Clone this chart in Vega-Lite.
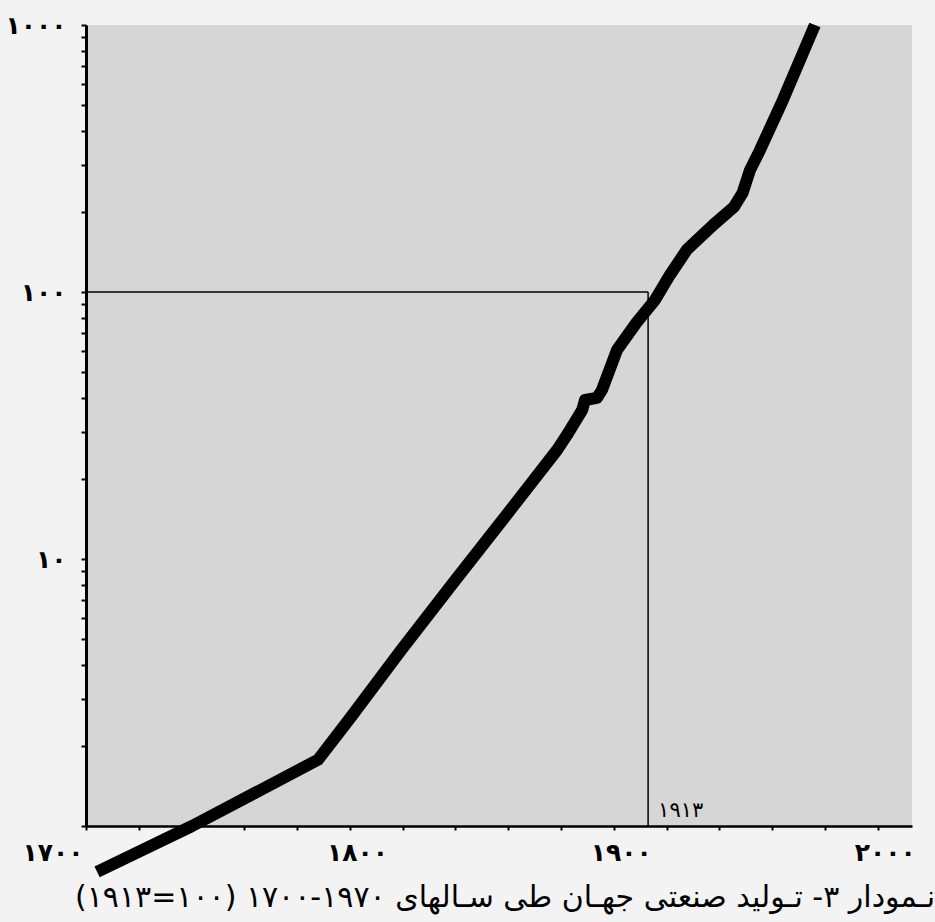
{
  "$schema": "https://vega.github.io/schema/vega-lite/v6.json",
  "width": 826,
  "height": 801,
  "autosize": "none",
  "padding": {"left": 86, "top": 25, "right": 23, "bottom": 96},
  "background": "#f3f3f3",
  "config": {"view": {"fill": "#d6d6d6", "stroke": null}, "font": "DejaVu Sans"},
  "datasets": {
    "production": [
      {"year": 1704.2, "index": 0.673},
      {"year": 1740.2, "index": 1.0},
      {"year": 1787.9, "index": 1.77},
      {"year": 1800.4, "index": 2.56},
      {"year": 1819.4, "index": 4.56},
      {"year": 1839.1, "index": 8.13},
      {"year": 1858.8, "index": 14.4},
      {"year": 1878.5, "index": 25.6},
      {"year": 1882.7, "index": 29.6},
      {"year": 1888.0, "index": 36.1},
      {"year": 1889.1, "index": 39.4},
      {"year": 1893.6, "index": 40.1},
      {"year": 1895.5, "index": 42.9},
      {"year": 1901.2, "index": 60.6},
      {"year": 1908.5, "index": 76.5},
      {"year": 1915.6, "index": 93.3},
      {"year": 1921.3, "index": 116},
      {"year": 1927.7, "index": 144},
      {"year": 1937.6, "index": 178},
      {"year": 1945.5, "index": 208},
      {"year": 1948.8, "index": 235},
      {"year": 1951.6, "index": 286},
      {"year": 1955.4, "index": 340},
      {"year": 1964.1, "index": 524},
      {"year": 1976.2, "index": 1000}
    ],
    "ref": [{"year": 1913, "index": 100, "label": "۱۹۱۳"}]
  },
  "title": {
    "text": "‏نـمودار ۳- تـولید صنعتی جهـان طی سـالهای ۱۹۷۰-۱۷۰۰ (۱۰۰=۱۹۱۳)‏",
    "orient": "bottom",
    "anchor": "middle",
    "fontSize": 30,
    "fontWeight": "normal",
    "color": "black",
    "offset": 0,
    "dy": 5,
    "dx": 6,
    "font": "DejaVu Sans"
  },
  "layer": [
    {
      "data": {"name": "ref"},
      "mark": {"type": "rule", "color": "black", "strokeWidth": 1.5},
      "encoding": {
        "x": {
          "field": "year",
          "type": "quantitative",
          "scale": {"domain": [1700, 2013], "nice": false, "zero": false},
          "axis": {
            "values": [1700, 1710, 1720, 1730, 1740, 1750, 1760, 1770, 1780, 1790, 1800, 1810, 1820, 1830, 1840, 1850, 1860, 1870, 1880, 1890, 1900, 1910, 1920, 1930, 1940, 1950, 1960, 1970, 1980, 1990, 2000, 2010],
            "labelExpr": "datum.value == 1700 ? '۱۷۰۰' : datum.value == 1800 ? '۱۸۰۰' : datum.value == 1900 ? '۱۹۰۰' : datum.value == 2000 ? '۲۰۰۰' : ''",
            "title": null,
            "grid": false,
            "domainColor": "black",
            "domainWidth": 2.5,
            "tickColor": "black",
            "tickWidth": 2,
            "tickSize": 4,
            "labelFontSize": 25,
            "labelFontWeight": "bold",
            "labelColor": "black",
            "labelPadding": 10,
            "labelFlush": false,
            "labelOverlap": false,
            "labelAlign": {"condition": {"test": "datum.value == 1700", "value": "right"}, "value": "center"},
            "labelOffset": {"condition": {"test": "datum.value == 1700", "value": -3}, "value": 7}
          }
        },
        "x2": {"datum": 1700},
        "y": {
          "field": "index",
          "type": "quantitative",
          "scale": {"type": "log", "domain": [1, 1000], "nice": false},
          "axis": {
            "values": [1, 2, 3, 4, 5, 6, 7, 8, 9, 10, 20, 30, 40, 50, 60, 70, 80, 90, 100, 200, 300, 400, 500, 600, 700, 800, 900, 1000],
            "labelExpr": "datum.value == 10 ? '۱۰' : datum.value == 100 ? '۱۰۰' : datum.value == 1000 ? '۱۰۰۰' : ''",
            "title": null,
            "grid": false,
            "domainColor": "black",
            "domainWidth": 3,
            "tickColor": "black",
            "tickWidth": 2,
            "tickSize": 5,
            "labelFontSize": 25,
            "labelFontWeight": "bold",
            "labelColor": "black",
            "labelPadding": 15,
            "labelFlush": false,
            "labelOverlap": false,
            "labelBaseline": "middle"
          }
        }
      }
    },
    {
      "data": {"name": "ref"},
      "mark": {"type": "rule", "color": "black", "strokeWidth": 1.5},
      "encoding": {
        "x": {"field": "year", "type": "quantitative"},
        "y": {"field": "index", "type": "quantitative"},
        "y2": {"datum": 1}
      }
    },
    {
      "data": {"name": "production"},
      "mark": {"type": "line", "color": "black", "strokeWidth": 12, "strokeCap": "butt", "strokeJoin": "round", "clip": false},
      "encoding": {
        "x": {"field": "year", "type": "quantitative"},
        "y": {"field": "index", "type": "quantitative"}
      }
    },
    {
      "data": {"name": "ref"},
      "mark": {"type": "text", "align": "left", "baseline": "bottom", "dx": 10, "dy": -5, "fontSize": 21, "color": "black", "font": "DejaVu Sans"},
      "encoding": {
        "x": {"field": "year", "type": "quantitative"},
        "y": {"datum": 1},
        "text": {"field": "label"}
      }
    }
  ]
}
